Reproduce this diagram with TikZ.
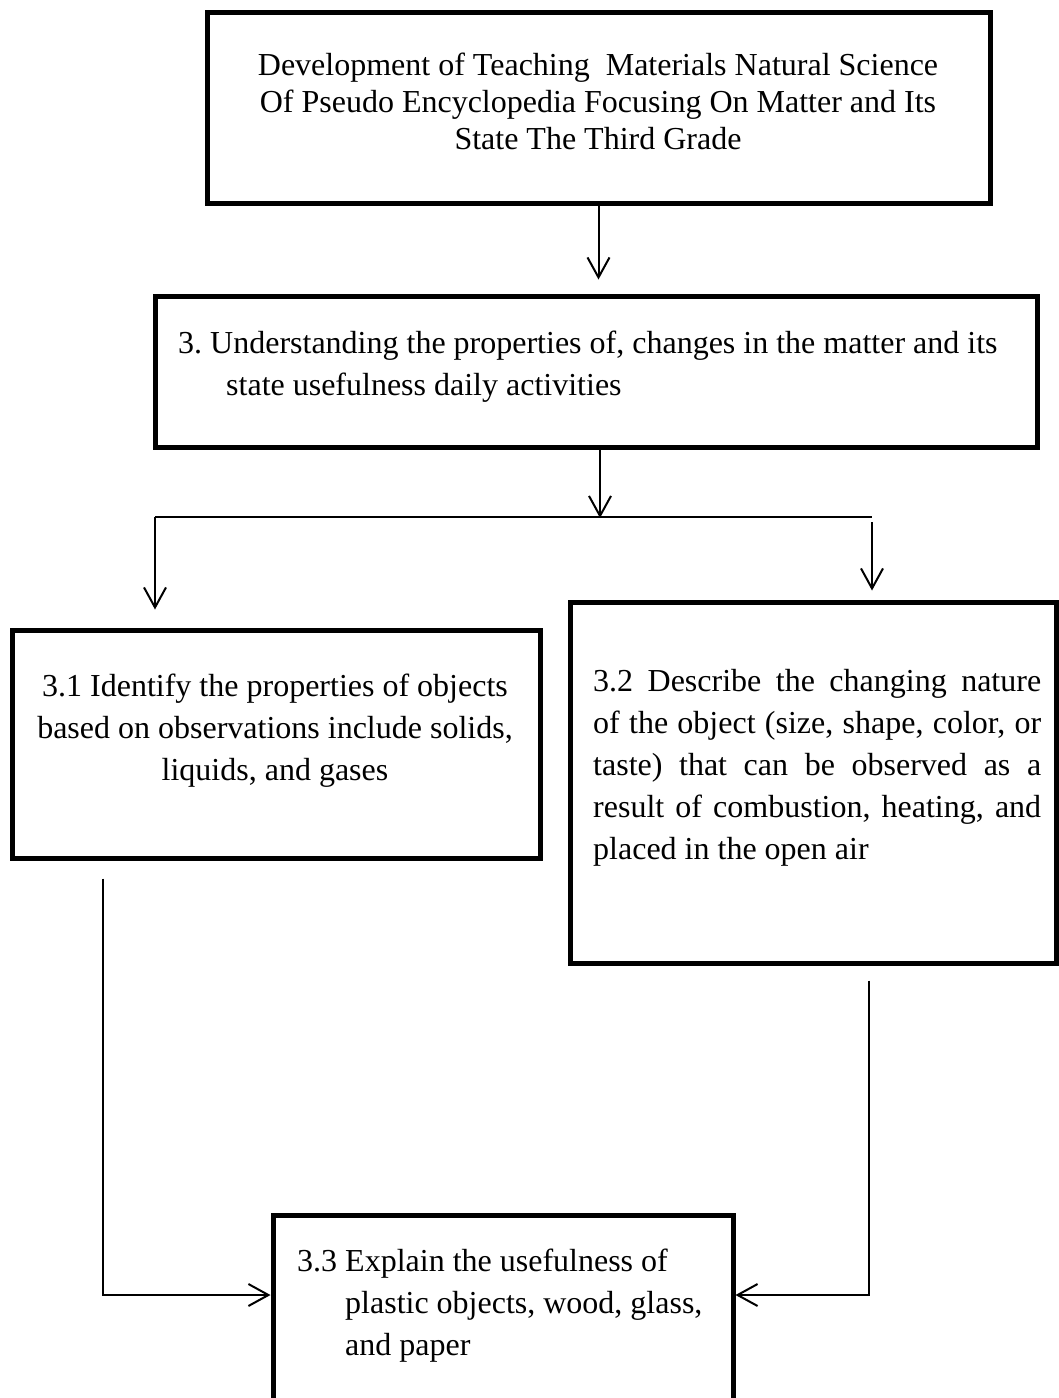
\documentclass[tikz,border=0pt]{standalone}
\usepackage{fontspec}
\setmainfont{Liberation Serif}
\usetikzlibrary{arrows.meta}

\newcommand{\fillline}[1]{\makebox[448pt][s]{#1}}

\begin{document}
\frenchspacing
\begin{tikzpicture}[x=1pt,y=-1pt,
  box/.style={draw,line width=5pt,inner sep=0pt},
  txt/.style={inner sep=0pt,font=\fontsize{32}{42}\selectfont},
  link/.style={line width=2pt,-{Straight Barb[length=20pt,width=22pt]}}]
\useasboundingbox (0,0) rectangle (1059,1398);
\clip (0,0) rectangle (1059,1398);
% boxes
\node[box,minimum width=783pt,minimum height=191pt] (goal) at (598.5,107.5) {};
\node[box,minimum width=882pt,minimum height=151pt] (std) at (596,371.5) {};
\node[box,minimum width=528pt,minimum height=228pt] (ind1) at (276,744) {};
\node[box,minimum width=486pt,minimum height=361pt] (ind2) at (813,782.5) {};
\node[box,minimum width=460pt,minimum height=215pt] (ind3) at (503,1322.5) {};
% texts
\node[txt,font=\fontsize{32}{37}\selectfont,align=center,anchor=north] (goaltxt) at (598,53)
  {Development of Teaching\ \ Materials Natural Science\\
   Of Pseudo Encyclopedia Focusing On Matter and Its\\
   State The Third Grade};
\node[txt,align=left,anchor=north west] (stdtxt) at (178,331)
  {3. Understanding the properties of, changes in the matter and its\\
   \hspace*{48pt}state usefulness daily activities};
\node[txt,align=center,anchor=north] (ind1txt) at (275,674)
  {3.1 Identify the properties of objects\\
   based on observations include solids,\\
   liquids, and gases};
\node[txt,align=left,anchor=north west] (ind2txt) at (593,669)
  {\fillline{3.2 Describe the changing nature}\\
   \fillline{of the object (size, shape, color, or}\\
   \fillline{taste) that can be observed as a}\\
   \fillline{result of combustion, heating, and}\\
   placed in the open air};
\node[txt,align=left,anchor=north west] (ind3txt) at (297,1249)
  {3.3 Explain the usefulness of\\
   \hspace*{48pt}plastic objects, wood, glass,\\
   \hspace*{48pt}and paper};
% connectors
\coordinate (split) at (600,518);
\coordinate (splitL) at (155,517);
\coordinate (splitR) at (872,517);
\coordinate (cornerL) at (103,1295);
\coordinate (cornerR) at (869,1295);
\draw[link,shorten >=14pt] (goal.south) -- (goal.south |- std.north);
\draw[link] (std.south -| split) -- (split);
\draw[line width=2pt] (splitL) -- (splitR);
\draw[link,shorten >=18pt] (splitL) -- (splitL |- ind1.north);
\draw[link,shorten <=5pt,shorten >=9pt] (splitR) -- (splitR |- ind2.north);
\draw[link,shorten <=18pt] (ind1.south -| cornerL) -- (cornerL) -- (cornerL -| ind3.west);
\draw[link,shorten <=15pt] (ind2.south -| cornerR) -- (cornerR) -- (cornerR -| ind3.east);
\end{tikzpicture}
\end{document}
